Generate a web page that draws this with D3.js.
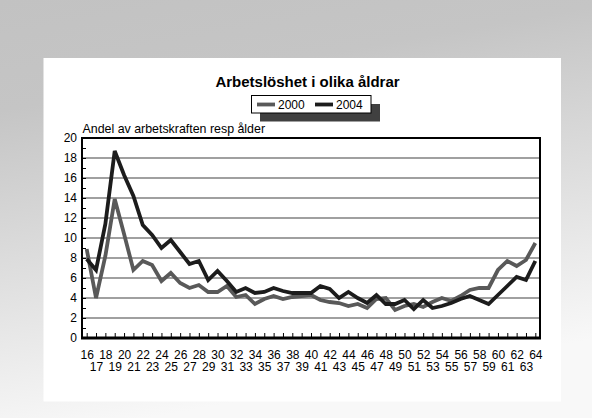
<!DOCTYPE html>
<html lang="sv">
<head>
<meta charset="UTF-8">
<title>Arbetslöshet i olika åldrar</title>
<script src="https://d3js.org/d3.v7.min.js"></script>
<style>
    body { margin: 0; padding: 0; }
    svg { display: block; font-family: "Liberation Sans", Arial, sans-serif; }
    .grid line { stroke: #808080; stroke-width: 1.5px; }
    .axis text { font-size: 12px; fill: #000; }
    .axis line { stroke: #000; stroke-width: 1px; }
</style>
</head>
<body>
<div id="chart"></div>
<script>
// ages 16..64
const ages = d3.range(16, 65);

const values2000 = [
    8.9, 4.0, 8.2, 13.9, 10.4, 6.8, 7.7, 7.3, 5.7, 6.5,
    5.5, 5.0, 5.3, 4.6, 4.6, 5.2, 4.1, 4.3, 3.4, 3.9,
    4.2, 3.9, 4.1, 4.2, 4.3, 3.8, 3.6, 3.5, 3.2, 3.4,
    3.0, 3.9, 4.0, 2.8, 3.2, 3.4, 3.1, 3.6, 4.0, 3.7,
    4.2, 4.8, 5.0, 5.0, 6.8, 7.7, 7.2, 7.8, 9.5
];

const values2004 = [
    7.9, 6.8, 11.4, 18.7, 16.3, 14.2, 11.3, 10.3, 9.0, 9.8,
    8.6, 7.4, 7.7, 5.8, 6.7, 5.7, 4.6, 5.0, 4.5, 4.6,
    5.0, 4.7, 4.5, 4.5, 4.5, 5.2, 4.9, 4.0, 4.6, 4.0,
    3.5, 4.3, 3.4, 3.4, 3.8, 2.9, 3.8, 3.0, 3.2, 3.5,
    3.9, 4.2, 3.8, 3.4, 4.3, 5.2, 6.1, 5.8, 7.7
];

const seriesNames = ["2000", "2004"];
const seriesColors = ["#595959", "#1c1c1c"];
const yTicks = d3.range(0, 21, 1);

const W = 592, H = 418;
const plot = { left: 82, right: 540, top: 138, bottom: 338 };

const svg = d3.select("#chart").append("svg")
    .attr("width", W)
    .attr("height", H);

// background: grey at the top fading to near white at the bottom
const grad = svg.append("defs").append("linearGradient")
    .attr("id", "bg").attr("x1", 0).attr("y1", 0).attr("x2", 0.25).attr("y2", 1);
grad.append("stop").attr("offset", "0%").attr("stop-color", "#c2c2c2");
grad.append("stop").attr("offset", "25%").attr("stop-color", "#c5c5c5");
grad.append("stop").attr("offset", "100%").attr("stop-color", "#f8f8f8");

svg.append("rect").attr("width", W).attr("height", H).attr("fill", "url(#bg)");
svg.append("rect")
    .attr("x", 43.5).attr("y", 58)
    .attr("width", 517.5).attr("height", 343.5)
    .attr("fill", "#fff");

const x = d3.scalePoint()
    .domain(ages)
    .range([plot.left, plot.right])
    .padding(0.5);

const y = d3.scaleLinear()
    .domain([0, 20])
    .range([plot.bottom, plot.top]);

// gridlines
svg.append("g").attr("class", "grid")
    .selectAll("line")
    .data(yTicks.filter(d => d % 2 === 0 && d > 0 && d < 20))
    .enter().append("line")
    .attr("x1", plot.left).attr("x2", plot.right)
    .attr("y1", d => y(d)).attr("y2", d => y(d));

// y axis
const yAxis = svg.append("g").attr("class", "axis")
    .attr("transform", `translate(${plot.left},0)`)
    .call(d3.axisLeft(y)
        .tickValues(yTicks)
        .tickSize(-4)
        .tickPadding(5)
        .tickFormat(d => d % 2 === 0 ? d : ""));
yAxis.select(".domain").remove();

// x axis, labels alternate between two rows
const xAxis = svg.append("g").attr("class", "axis")
    .attr("transform", `translate(0,${plot.bottom})`)
    .call(d3.axisBottom(x).tickSize(-5).tickPadding(0));
xAxis.select(".domain").remove();
xAxis.selectAll(".tick text")
    .attr("y", d => (d % 2 === 0 ? 20.5 : 32.5))
    .attr("dy", 0);

// frame
svg.append("rect")
    .attr("x", plot.left).attr("y", plot.top)
    .attr("width", plot.right - plot.left)
    .attr("height", plot.bottom - plot.top)
    .attr("fill", "none")
    .attr("stroke", "#000")
    .attr("stroke-width", 2);
svg.append("line")
    .attr("x1", plot.left - 1).attr("x2", plot.right + 1)
    .attr("y1", plot.bottom).attr("y2", plot.bottom)
    .attr("stroke", "#000").attr("stroke-width", 3);

// series lines
const line = d3.line()
    .x((d, i) => x(ages[i]))
    .y(d => y(d));

[values2000, values2004].forEach((vals, i) => {
    svg.append("path")
        .datum(vals)
        .attr("fill", "none")
        .attr("stroke", seriesColors[i])
        .attr("stroke-width", 3.8)
        .attr("stroke-linejoin", "miter")
        .attr("d", line);
});

// title
svg.append("text")
    .attr("x", 307.5).attr("y", 86.5)
    .attr("text-anchor", "middle")
    .attr("font-size", "15px")
    .attr("font-weight", "bold")
    .text("Arbetslöshet i olika åldrar");

// axis title
svg.append("text")
    .attr("x", 82.5).attr("y", 133)
    .attr("font-size", "12.4px")
    .text("Andel av arbetskraften resp ålder");

// legend with drop shadow
const legend = svg.append("g");
legend.append("rect")
    .attr("x", 260).attr("y", 104).attr("width", 120).attr("height", 17.5)
    .attr("fill", "#404040");
legend.append("rect")
    .attr("x", 251.5).attr("y", 95.5).attr("width", 119.5).attr("height", 17.5)
    .attr("fill", "#fff").attr("stroke", "#000").attr("stroke-width", 1);

const legendX = [257, 315];
seriesNames.forEach((name, i) => {
    legend.append("line")
        .attr("x1", legendX[i]).attr("x2", legendX[i] + 18)
        .attr("y1", 104.5).attr("y2", 104.5)
        .attr("stroke", seriesColors[i])
        .attr("stroke-width", 3.8);
    legend.append("text")
        .attr("x", legendX[i] + 21).attr("y", 109)
        .attr("font-size", "12px")
        .text(name);
});
</script>
</body>
</html>
